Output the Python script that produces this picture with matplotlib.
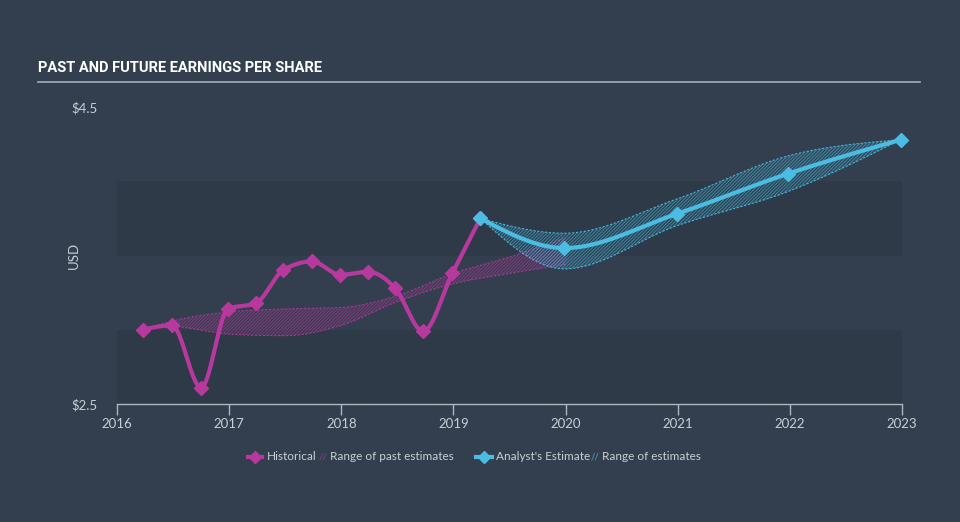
import numpy as np
import matplotlib.pyplot as plt

# historical EPS
hist_x = [2016.23, 2016.49, 2016.75, 2016.99, 2017.24, 2017.48, 2017.74, 2017.99,
          2018.24, 2018.48, 2018.73, 2018.99, 2019.24]
hist_y = [3.00, 3.03, 2.61, 3.14, 3.18, 3.40, 3.46, 3.37, 3.39, 3.28, 2.99, 3.38, 3.75]

# range of past estimates
past_x = [2016.23, 2016.5, 2017.0, 2017.5, 2018.0, 2018.5, 2019.0, 2019.5, 2020.0]
past_hi = [3.00, 3.06, 3.12, 3.14, 3.15, 3.23, 3.38, 3.49, 3.62]
past_lo = [3.00, 3.02, 2.97, 2.96, 3.03, 3.19, 3.31, 3.38, 3.44]

# analyst estimates
est_x = [2019.24, 2019.99, 2020.99, 2021.98, 2022.99]
est_y = [3.75, 3.55, 3.78, 4.05, 4.28]
est_hi = [3.75, 3.65, 3.88, 4.17, 4.28]
est_lo = [3.75, 3.41, 3.70, 3.93, 4.28]

years = [2016, 2017, 2018, 2019, 2020, 2021, 2022, 2023]

BG = '#333f4f'
BAND = '#2e3a48'
MAG = '#b8399d'
CYAN = '#4bbde3'
TXT = '#c9ced4'
FONT = ['Lato', 'DejaVu Sans']


def smooth(x, y, n=40):
    # monotone cubic in x (like d3 curveMonotoneX), for drawing only
    x = np.asarray(x, float)
    y = np.asarray(y, float)
    h = np.diff(x)
    s = np.diff(y) / h
    m = np.zeros_like(y)
    for i in range(1, len(x) - 1):
        p = (s[i - 1] * h[i] + s[i] * h[i - 1]) / (h[i - 1] + h[i])
        m[i] = (np.sign(s[i - 1]) + np.sign(s[i])) * min(abs(s[i - 1]), abs(s[i]), 0.5 * abs(p))
    if len(x) > 2:
        m[0] = (3 * s[0] - m[1]) / 2
        m[-1] = (3 * s[-1] - m[-2]) / 2
    else:
        m[:] = s[0]
    xs, ys = [], []
    t = np.linspace(0, 1, n)
    for i in range(len(x) - 1):
        h00 = 2 * t ** 3 - 3 * t ** 2 + 1
        h10 = t ** 3 - 2 * t ** 2 + t
        h01 = -2 * t ** 3 + 3 * t ** 2
        h11 = t ** 3 - t ** 2
        xs.extend(x[i] + t * h[i])
        ys.extend(h00 * y[i] + h10 * h[i] * m[i] + h01 * y[i + 1] + h11 * h[i] * m[i + 1])
    return np.array(xs), np.array(ys)


plt.rcParams['hatch.linewidth'] = 0.6
fig = plt.figure(figsize=(9.6, 5.22), dpi=100, facecolor=BG)
ax = fig.add_axes([117 / 960, 1 - 404 / 522, 785 / 960, 297 / 522])
ax.set_facecolor(BG)
ax.set_xlim(2016, 2023)
ax.set_ylim(2.5, 4.5)

ax.axhspan(2.5, 3.0, color=BAND, lw=0, zorder=0)
ax.axhspan(3.5, 4.0, color=BAND, lw=0, zorder=0)

# past estimate band
sx, shi = smooth(past_x, past_hi)
_, slo = smooth(past_x, past_lo)
ax.fill_between(sx, slo, shi, color=MAG, alpha=0.08, lw=0, zorder=1)
ax.fill_between(sx, slo, shi, facecolor='none', edgecolor=MAG, hatch='//////////',
                lw=0, alpha=0.6, zorder=1)
ax.plot(sx, shi, color=MAG, lw=0.8, ls=(0, (2, 1.5)), alpha=0.8, zorder=1)
ax.plot(sx, slo, color=MAG, lw=0.8, ls=(0, (2, 1.5)), alpha=0.8, zorder=1)

# future estimate band
fx, fhi = smooth(est_x, est_hi)
_, flo = smooth(est_x, est_lo)
ax.fill_between(fx, flo, fhi, color=CYAN, alpha=0.08, lw=0, zorder=2)
ax.fill_between(fx, flo, fhi, facecolor='none', edgecolor=CYAN, hatch='//////////',
                lw=0, alpha=0.6, zorder=2)
ax.plot(fx, fhi, color=CYAN, lw=0.8, ls=(0, (2, 1.5)), alpha=0.9, zorder=2)
ax.plot(fx, flo, color=CYAN, lw=0.8, ls=(0, (2, 1.5)), alpha=0.9, zorder=2)

# lines
hx, hy = smooth(hist_x, hist_y)
ax.plot(hx, hy, color=MAG, lw=3, zorder=3, solid_capstyle='round')
ax.plot(hist_x, hist_y, 'D', color=MAG, ms=7, zorder=4, clip_on=False)
ex, ey = smooth(est_x, est_y)
ax.plot(ex, ey, color=CYAN, lw=3, zorder=5, solid_capstyle='round')
ax.plot(est_x, est_y, 'D', color=CYAN, ms=7, zorder=6, clip_on=False)

# axes styling
for s in ['top', 'right', 'left']:
    ax.spines[s].set_visible(False)
ax.spines['bottom'].set_color('#aeb6c0')
ax.spines['bottom'].set_linewidth(1)
ax.set_xticks(years)
ax.set_xticklabels([str(y) for y in years], family=FONT)
ax.tick_params(axis='x', colors='#aeb6c0', labelcolor=TXT, length=8, width=1,
               labelsize=9.5, pad=2)
ax.set_yticks([2.5, 4.5])
ax.set_yticklabels(['$2.5', '$4.5'], family=FONT)
ax.tick_params(axis='y', length=0, labelcolor=TXT, labelsize=9.5, pad=14)
ax.set_ylabel('USD', color=TXT, fontsize=9.5, family=FONT)
ax.yaxis.set_label_coords(-(117 - 80) / 785, 0.5)

# title
fig.text(38 / 960, 1 - 68 / 522, 'PAST AND FUTURE EARNINGS PER SHARE',
         family=['Roboto', 'DejaVu Sans'], weight='bold',
         fontsize=10.5, color='white', va='center', ha='left')
fig.add_artist(plt.Line2D([38 / 960, 920 / 960], [1 - 82 / 522, 1 - 82 / 522],
                          color='#a7afb8', lw=1.2))

# legend
ly = 1 - 457 / 522
fig.add_artist(plt.Line2D([248 / 960, 262 / 960], [ly, ly], color=MAG, lw=3))
fig.add_artist(plt.Line2D([255 / 960], [ly], marker='D', color=MAG, ms=6))
fig.text(267 / 960, ly, 'Historical', color=TXT, fontsize=8.5, va='center', family=FONT)
fig.text(319 / 960, ly, '//', color=MAG, fontsize=7, va='center', alpha=0.8, family=FONT)
fig.text(330 / 960, ly, 'Range of past estimates', color=TXT, fontsize=8.5,
         va='center', family=FONT)
fig.add_artist(plt.Line2D([476 / 960, 492 / 960], [ly, ly], color=CYAN, lw=3))
fig.add_artist(plt.Line2D([484 / 960], [ly], marker='D', color=CYAN, ms=6))
fig.text(496 / 960, ly, "Analyst's Estimate", color=TXT, fontsize=8.5, va='center',
         family=FONT)
fig.text(591 / 960, ly, '//', color=CYAN, fontsize=7, va='center', alpha=0.8, family=FONT)
fig.text(602 / 960, ly, 'Range of estimates', color=TXT, fontsize=8.5, va='center',
         family=FONT)

fig.savefig('out.png', dpi=100, facecolor=BG)
